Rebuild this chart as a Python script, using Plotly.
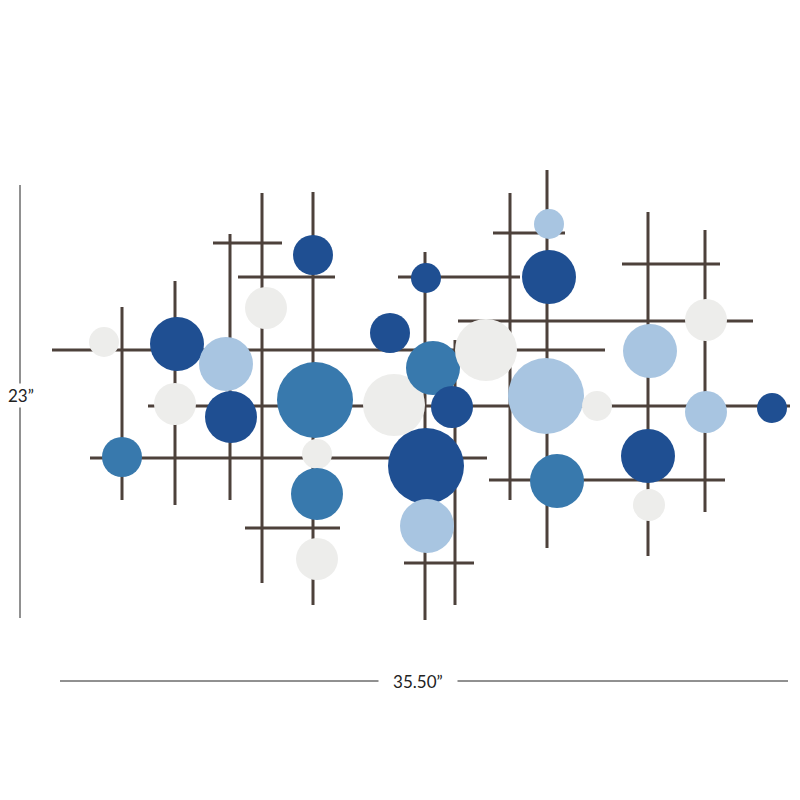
import plotly.graph_objects as go

# circles: centre x, centre y (pixels from top), radius, tone
circle_x = [104, 177, 226, 175, 231, 122, 266, 313, 315, 317, 317, 317, 390, 426, 394, 433,
            452, 426, 427, 486, 549, 549, 546, 597, 557, 650, 706, 706, 648, 649, 772]
circle_y = [342, 344, 364, 404, 417, 457, 308, 255, 400, 454, 494, 559, 333, 278, 405, 368,
            407, 466, 526, 350, 224, 277, 396, 406, 481, 351, 320, 412, 456, 505, 408]
circle_r = [15, 27, 27, 21, 26, 20, 21, 20, 38, 15, 26, 21, 20, 15, 31, 27,
            21, 38, 27, 31, 15, 27, 38, 15, 27, 27, 21, 21, 27, 16, 15]
circle_tone = ["white", "dark", "light", "white", "dark", "medium", "white", "dark", "medium",
               "white", "medium", "white", "dark", "dark", "white", "medium", "dark", "dark",
               "light", "white", "light", "dark", "light", "white", "medium", "light", "white",
               "light", "dark", "white", "dark"]

# rods
h_rods = [(52, 605, 350), (148, 790, 406), (90, 487, 458), (213, 282, 243), (238, 335, 277),
          (245, 340, 528), (398, 520, 277), (458, 753, 321), (493, 565, 233), (622, 720, 264),
          (489, 725, 480), (404, 474, 563)]
v_rods = [(122, 307, 500), (175, 281, 505), (230, 234, 500), (262, 193, 583), (313, 192, 605),
          (425, 252, 620), (455, 340, 605), (510, 193, 500), (547, 170, 548), (648, 212, 556),
          (705, 230, 512)]

tones = {"dark": "#1f4f92", "medium": "#3879ad", "light": "#a8c5e1", "white": "#ededeb"}

rx, ry = [], []
for x0, x1, y in h_rods:
    rx += [x0, x1, None]
    ry += [y, y, None]
for x, y0, y1 in v_rods:
    rx += [x, x, None]
    ry += [y0, y1, None]

fig = go.Figure()
fig.add_trace(go.Scatter(x=rx, y=ry, mode="lines", line={"color": "#4d413b", "width": 3},
                         hoverinfo="skip"))
fig.add_trace(go.Scatter(
    x=circle_x, y=circle_y, mode="markers",
    marker={"size": [2 * r for r in circle_r], "color": [tones[t] for t in circle_tone],
            "line": {"width": 0}, "opacity": 1},
))

# dimension lines
fig.add_trace(go.Scatter(x=[20, 20, None, 60, 788], y=[185, 618, None, 681, 681], mode="lines",
                         line={"color": "#222", "width": 1}, hoverinfo="skip"))
fig.add_annotation(x=21, y=395, text="23”", showarrow=False, bgcolor="white",
                   font={"size": 17, "color": "#222", "family": "Lato"})
fig.add_annotation(x=418, y=681, text="   35.50”   ", showarrow=False, bgcolor="white",
                   font={"size": 17, "color": "#222", "family": "Lato"})

# page body has an 8px margin, so offset the ranges to keep page-pixel positions
fig.update_layout(
    width=800, height=800, margin={"l": 0, "r": 0, "t": 0, "b": 0},
    plot_bgcolor="white", paper_bgcolor="white", showlegend=False,
    xaxis={"range": [8, 808], "visible": False},
    yaxis={"range": [808, 8], "visible": False},
)
fig.write_html("out.html")
